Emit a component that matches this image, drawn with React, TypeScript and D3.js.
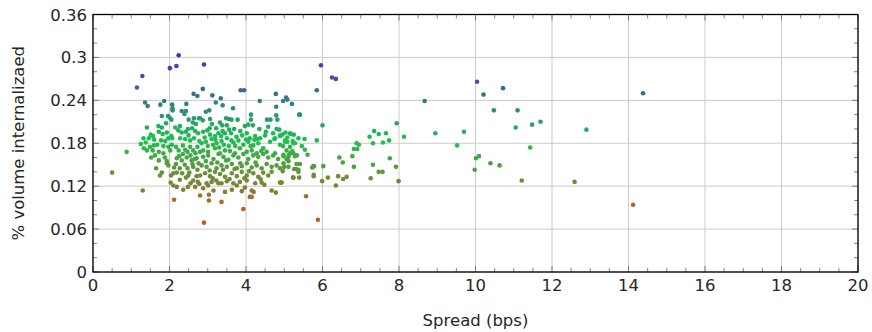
import React from 'react'
import * as d3 from 'd3'

// spread (bps) vs % volume internalized
const outliers: [number, number][] = [
  [0.50, 0.139], [0.88, 0.168], [1.15, 0.258], [1.29, 0.274], [1.30, 0.114], [1.36, 0.237], [1.43, 0.232],
  [2.01, 0.285], [2.18, 0.288], [2.24, 0.303], [2.90, 0.290], [2.12, 0.101], [2.90, 0.069], [3.03, 0.100],
  [3.36, 0.098], [3.93, 0.088], [2.80, 0.107], [3.03, 0.108], [4.10, 0.105], [4.15, 0.105],
  [2.87, 0.256], [2.63, 0.249], [2.73, 0.246], [3.12, 0.247], [3.34, 0.243], [3.86, 0.254], [3.95, 0.254],
  [4.78, 0.249], [4.36, 0.239], [4.97, 0.239], [5.05, 0.244], [5.08, 0.241], [5.20, 0.235],
  [5.96, 0.289], [6.25, 0.272], [6.35, 0.270], [5.85, 0.254], [5.41, 0.220], [6.00, 0.205], [5.57, 0.106], [5.88, 0.073],
]

const farRight: [number, number][] = [
  [7.94, 0.208], [8.67, 0.239], [8.13, 0.189], [8.95, 0.194], [9.70, 0.196], [9.52, 0.177], [10.04, 0.266],
  [10.21, 0.248], [10.72, 0.257], [10.48, 0.226], [11.10, 0.226], [11.05, 0.202], [11.48, 0.206], [11.70, 0.210],
  [11.43, 0.174], [10.01, 0.159], [10.09, 0.162], [10.39, 0.152], [10.63, 0.149], [9.98, 0.143], [11.21, 0.128],
  [12.59, 0.126], [12.90, 0.199], [14.38, 0.250], [14.12, 0.094],
]

const midRange: [number, number][] = [
  [4.89, 0.190], [5.17, 0.193], [5.02, 0.184], [5.08, 0.182], [5.22, 0.183], [5.24, 0.180], [4.97, 0.176],
  [5.53, 0.186], [5.85, 0.184], [5.46, 0.176], [5.54, 0.171], [5.61, 0.164], [5.21, 0.169], [5.15, 0.166],
  [5.12, 0.164], [4.98, 0.162], [5.33, 0.163], [5.28, 0.162], [5.06, 0.158], [5.11, 0.155], [5.32, 0.151],
  [5.41, 0.151], [5.00, 0.147], [5.26, 0.144], [5.31, 0.144], [5.37, 0.143], [4.96, 0.141], [5.76, 0.148],
  [5.78, 0.148], [5.73, 0.146], [6.02, 0.148], [5.23, 0.132], [5.39, 0.132], [5.77, 0.134], [5.77, 0.136],
  [5.99, 0.127], [6.14, 0.132], [6.35, 0.121], [6.41, 0.134], [6.54, 0.130], [6.63, 0.133], [4.89, 0.125],
  [4.93, 0.125], [6.44, 0.160], [6.53, 0.153], [6.82, 0.147], [6.78, 0.162], [6.82, 0.172], [6.91, 0.172],
  [6.89, 0.180], [6.95, 0.178], [7.23, 0.189], [7.32, 0.180], [7.35, 0.197], [7.47, 0.193], [7.66, 0.194],
  [7.58, 0.181], [7.74, 0.184], [7.76, 0.159], [7.32, 0.150], [7.92, 0.147], [7.26, 0.131], [7.47, 0.140],
  [7.57, 0.140], [7.99, 0.127], [5.37, 0.140],
]

const clusterUpper: [number, number][] = [
  [1.76, 0.234], [1.86, 0.239], [2.07, 0.234], [2.08, 0.229], [2.08, 0.226], [2.44, 0.235], [2.32, 0.225],
  [2.43, 0.225], [2.39, 0.221], [1.80, 0.218], [1.96, 0.218], [2.05, 0.213], [2.00, 0.216], [2.50, 0.213],
  [2.64, 0.215], [2.77, 0.215], [2.61, 0.209], [2.69, 0.207], [1.91, 0.208], [1.41, 0.202], [1.71, 0.204],
  [1.80, 0.202], [2.15, 0.202], [2.27, 0.204], [2.48, 0.200], [2.59, 0.201],
  [1.32, 0.187], [1.25, 0.179], [1.51, 0.192], [1.57, 0.190], [1.46, 0.187], [1.72, 0.196], [1.82, 0.193],
  [1.93, 0.195], [2.05, 0.190], [1.97, 0.187], [2.07, 0.187], [1.78, 0.184], [1.89, 0.183], [1.68, 0.178],
  [1.84, 0.176], [1.97, 0.175], [2.06, 0.178], [2.02, 0.170],
  [2.23, 0.198], [2.32, 0.195], [2.43, 0.196], [2.50, 0.191], [2.28, 0.187], [2.41, 0.186], [2.54, 0.184],
  [2.67, 0.197], [2.75, 0.194], [2.64, 0.187], [2.78, 0.183],
  [1.33, 0.173], [1.41, 0.170], [1.49, 0.175], [1.59, 0.177], [1.56, 0.170], [1.72, 0.168], [1.84, 0.166],
  [2.17, 0.175], [2.24, 0.170], [2.35, 0.177], [2.41, 0.171], [2.47, 0.168], [2.54, 0.175], [2.62, 0.170],
  [2.73, 0.175], [2.68, 0.166], [2.80, 0.168],
  [3.21, 0.237], [3.39, 0.233], [3.66, 0.229], [4.79, 0.231], [2.95, 0.224], [3.04, 0.226], [2.80, 0.215],
  [2.87, 0.212], [3.06, 0.214], [3.48, 0.215], [3.55, 0.214], [3.62, 0.213], [3.78, 0.213], [4.13, 0.220],
  [4.13, 0.213], [4.55, 0.213], [4.64, 0.213], [4.79, 0.219], [4.82, 0.213], [5.39, 0.220],
  [3.11, 0.207], [3.32, 0.209], [3.38, 0.205], [3.22, 0.201], [3.69, 0.200], [3.56, 0.199], [3.97, 0.204],
  [4.06, 0.206], [4.18, 0.205], [4.58, 0.203], [4.80, 0.200], [4.89, 0.191], [5.15, 0.194], [5.25, 0.192],
  [2.88, 0.196], [2.99, 0.198], [3.06, 0.192], [3.19, 0.190], [3.28, 0.194], [3.39, 0.197], [3.45, 0.194],
  [3.61, 0.194], [3.90, 0.191], [4.02, 0.194], [4.10, 0.187], [4.24, 0.190], [4.37, 0.187], [4.50, 0.191],
  [4.71, 0.194], [4.95, 0.192], [5.03, 0.195], [5.08, 0.188],
  [2.84, 0.180], [2.95, 0.182], [3.10, 0.186], [3.23, 0.180], [3.36, 0.183], [3.50, 0.187], [3.67, 0.181],
  [3.80, 0.184], [3.93, 0.178], [4.06, 0.182], [4.19, 0.177], [4.32, 0.180], [4.45, 0.173], [4.63, 0.182],
  [4.76, 0.187], [4.89, 0.178], [5.02, 0.182], [5.15, 0.175], [5.28, 0.180], [5.37, 0.187],
  [2.88, 0.170], [3.01, 0.168], [3.19, 0.173], [3.32, 0.166], [3.45, 0.170], [3.58, 0.169], [3.71, 0.166],
  [3.84, 0.173], [4.02, 0.168], [4.15, 0.170], [4.28, 0.166], [4.54, 0.168], [4.76, 0.166], [5.06, 0.170],
  [5.24, 0.166], [4.22, 0.185], [4.30, 0.186], [4.74, 0.186], [4.52, 0.196], [4.87, 0.199],
]

const clusterLower: [number, number][] = [
  [1.72, 0.156], [1.93, 0.155], [1.97, 0.149], [1.93, 0.152], [2.19, 0.159], [2.32, 0.156], [2.45, 0.160],
  [2.58, 0.156], [2.71, 0.159], [2.76, 0.152], [2.17, 0.151], [2.27, 0.145], [2.47, 0.145], [2.62, 0.147],
  [2.73, 0.143], [1.80, 0.139], [1.75, 0.135], [2.04, 0.135], [2.10, 0.138], [2.19, 0.139], [2.27, 0.129],
  [2.43, 0.132], [2.49, 0.135], [2.62, 0.128], [2.71, 0.134], [2.03, 0.125], [2.10, 0.121], [2.19, 0.119],
  [2.36, 0.115], [2.48, 0.119], [2.67, 0.119], [2.74, 0.126], [2.78, 0.123], [1.62, 0.163], [1.52, 0.160],
  [2.88, 0.117], [3.01, 0.121], [3.15, 0.114], [3.28, 0.124], [3.45, 0.112], [3.63, 0.115], [3.76, 0.121],
  [3.89, 0.113], [3.97, 0.118], [4.15, 0.114], [4.20, 0.112], [4.67, 0.114], [4.78, 0.111],
  [2.97, 0.124], [3.10, 0.126], [3.22, 0.128], [3.36, 0.124], [3.50, 0.127], [3.67, 0.124], [3.84, 0.126],
  [4.02, 0.128], [4.24, 0.124], [4.41, 0.125], [4.48, 0.122], [4.92, 0.125],
  [2.80, 0.135], [2.93, 0.138], [3.06, 0.134], [3.19, 0.140], [3.32, 0.137], [3.45, 0.133], [3.63, 0.138],
  [3.76, 0.134], [3.89, 0.140], [4.02, 0.135], [4.19, 0.138], [4.32, 0.133], [4.45, 0.139], [4.58, 0.135],
  [4.67, 0.140], [4.89, 0.145], [5.24, 0.132],
  [2.84, 0.149], [2.97, 0.147], [3.10, 0.152], [3.23, 0.145], [3.36, 0.149], [3.50, 0.147], [3.63, 0.151],
  [3.76, 0.145], [3.89, 0.148], [4.02, 0.152], [4.15, 0.146], [4.28, 0.149], [4.41, 0.145], [4.54, 0.151],
  [4.67, 0.147], [4.80, 0.149], [4.98, 0.152], [5.11, 0.147],
  [2.88, 0.161], [3.01, 0.163], [3.15, 0.158], [3.28, 0.165], [3.41, 0.161], [3.54, 0.157], [3.67, 0.163],
  [3.80, 0.160], [3.93, 0.165], [4.06, 0.158], [4.19, 0.163], [4.32, 0.161], [4.45, 0.165], [4.58, 0.160],
  [4.71, 0.163], [4.84, 0.158], [4.98, 0.164], [5.11, 0.161],
]

const clusterCore: [number, number][] = [
  [2.55, 0.163], [2.66, 0.158], [2.95, 0.155], [3.05, 0.142], [3.13, 0.131], [3.25, 0.153], [3.40, 0.143],
  [3.48, 0.156], [3.57, 0.130], [3.70, 0.144], [3.72, 0.176], [3.85, 0.152], [3.96, 0.131], [4.08, 0.141],
  [4.12, 0.176], [4.25, 0.153], [4.38, 0.130], [4.40, 0.169], [2.52, 0.139], [2.60, 0.151], [2.35, 0.165],
  [2.25, 0.162], [3.00, 0.176], [3.14, 0.178], [3.30, 0.174], [3.42, 0.178], [3.55, 0.176], [3.62, 0.184],
  [3.75, 0.189], [3.35, 0.190], [3.20, 0.185], [2.92, 0.188], [3.05, 0.201], [3.50, 0.205], [3.85, 0.197],
  [4.35, 0.200], [4.00, 0.185], [2.40, 0.150], [2.55, 0.124], [2.33, 0.138], [2.12, 0.146], [1.88, 0.160],
  [1.65, 0.145], [1.60, 0.185], [1.38, 0.181],
]

const xTicks = [0, 2, 4, 6, 8, 10, 12, 14, 16, 18, 20]
const yTicks = [0, 0.06, 0.12, 0.18, 0.24, 0.3, 0.36]
const yTickLabels = ['0', '0.06', '0.12', '0.18', '0.24', '0.3', '0.36']

const W = 872
const H = 332
const m = { left: 93, top: 14.5, right: 858, bottom: 272 }
const font = '"DejaVu Sans", sans-serif'

export default function App() {
  const points = [...outliers, ...farRight, ...midRange, ...clusterUpper, ...clusterLower, ...clusterCore]

  const x = d3.scaleLinear().domain([0, 20]).range([m.left, m.right])
  const y = d3.scaleLinear().domain([0, 0.36]).range([m.bottom, m.top])

  // colour follows the y value: orange-red (low) -> green -> purple (high)
  const yVals = points.map(p => p[1])
  const lo = d3.min(yVals) as number
  const hi = d3.max(yVals) as number
  const color = d3.scaleLinear<string>()
    .domain([lo, (lo + hi) / 2, hi])
    .range(['#d2501e', '#1ec050', '#5028c8'])

  const xMinor = d3.range(0, 20.01, 0.5)
  const yMinor = d3.range(0, 0.3601, 0.02)

  return (
    <svg width={W} height={H} style={{ position: 'absolute', left: 0, top: 0, background: '#fff' }}>
      {/* grid */}
      <g stroke="#cbcbcb" strokeWidth={1}>
        {xTicks.map(t => (
          <line key={'gx' + t} x1={x(t)} x2={x(t)} y1={m.top} y2={m.bottom} />
        ))}
        {yTicks.map(t => (
          <line key={'gy' + t} x1={m.left} x2={m.right} y1={y(t)} y2={y(t)} />
        ))}
      </g>

      {/* minor + major ticks, inward on all sides */}
      <g stroke="#666" strokeWidth={0.8}>
        {xMinor.map(t => {
          const len = t % 2 === 0 ? 6 : 4
          return (
            <g key={'tx' + t}>
              <line x1={x(t)} x2={x(t)} y1={m.bottom} y2={m.bottom - len} />
              <line x1={x(t)} x2={x(t)} y1={m.top} y2={m.top + len} />
            </g>
          )
        })}
        {yMinor.map((t, i) => {
          const len = i % 3 === 0 ? 6 : 4
          return (
            <g key={'ty' + i}>
              <line x1={m.left} x2={m.left + len} y1={y(t)} y2={y(t)} />
              <line x1={m.right} x2={m.right - len} y1={y(t)} y2={y(t)} />
            </g>
          )
        })}
      </g>

      {/* points */}
      <g>
        {points.map((p, i) => (
          <circle key={i} cx={x(p[0])} cy={y(p[1])} r={2.3} fill={color(p[1])} />
        ))}
      </g>

      {/* frame */}
      <rect x={m.left} y={m.top} width={m.right - m.left} height={m.bottom - m.top}
        fill="none" stroke="#000" strokeWidth={1.3} />

      {/* tick labels */}
      <g fontFamily={font} fontSize={16.5} fill="#262626">
        {xTicks.map(t => (
          <text key={'lx' + t} x={x(t)} y={m.bottom + 19} textAnchor="middle">{t}</text>
        ))}
        {yTicks.map((t, i) => (
          <text key={'ly' + t} x={m.left - 6} y={y(t) + 6} textAnchor="end">{yTickLabels[i]}</text>
        ))}
      </g>

      {/* axis titles */}
      <text x={(m.left + m.right) / 2} y={326} textAnchor="middle" fontFamily={font} fontSize={16.5} fill="#262626">
        Spread (bps)
      </text>
      <text transform={`translate(24,${(m.top + m.bottom) / 2}) rotate(-90)`} textAnchor="middle"
        fontFamily={font} fontSize={16.5} fill="#262626">
        % volume internalizaed
      </text>
    </svg>
  )
}
